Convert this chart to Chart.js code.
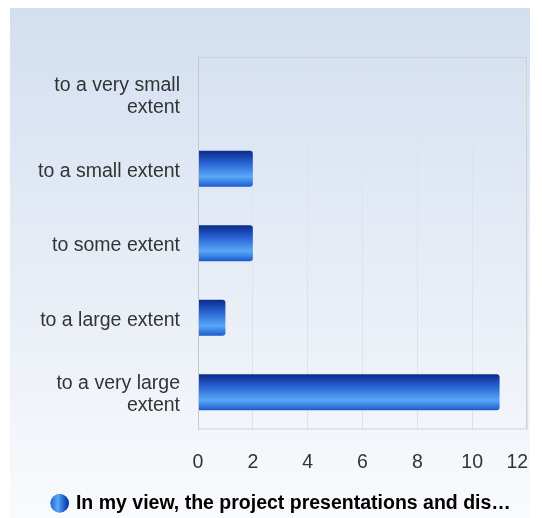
<!DOCTYPE html>
<html lang="en">
<head>
<meta charset="UTF-8">
<title>Extent chart</title>
<script src="https://cdn.jsdelivr.net/npm/chart.js"></script>
<style>
  html, body { margin: 0; padding: 0; background: #ffffff; }
  #wrap { position: relative; width: 542px; height: 518px; }
</style>
</head>
<body>
<div id="wrap"><canvas id="chart"></canvas></div>
<script>
// categories and values
const categories = [
    ['to a very small', 'extent'],
    'to a small extent',
    'to some extent',
    'to a large extent',
    ['to a very large', 'extent']
];
const answers = [0, 2, 2, 1, 11];
const xTicks = [0, 2, 4, 6, 8, 10, 12];
const seriesName = 'In my view, the project presentations and dis\u2026';

const FONT = "'Liberation Sans', Arial, sans-serif";
const FSIZE = 19.5;
const BAR_PCT = 0.48;
const MARK = 13;

// vertical gradient for each bar, spanning only that bar's height
function barFill(ctx) {
    const chart = ctx.chart;
    const y = chart.scales.y;
    if (!chart.chartArea || !y || ctx.dataIndex === undefined) return '#2a6fd8';
    const c = y.getPixelForValue(ctx.dataIndex);
    const h = (chart.chartArea.bottom - chart.chartArea.top) / categories.length * BAR_PCT;
    const g = chart.ctx.createLinearGradient(0, c - h / 2, 0, c + h / 2);
    g.addColorStop(0, '#0a2c8c');
    g.addColorStop(0.35, '#2a63d4');
    g.addColorStop(0.72, '#5aa8f8');
    g.addColorStop(1, '#1c5ccc');
    return g;
}

// panel background + plot frame + shaded legend marker
const panel = {
    id: 'panel',
    beforeDraw(chart) {
        const c = chart.ctx;
        const g = c.createLinearGradient(0, 8, 0, 518);
        g.addColorStop(0, '#d3dff0');
        g.addColorStop(1, '#f9fafc');
        c.save();
        c.fillStyle = g;
        c.fillRect(10, 8, 520, 510);
        c.restore();
    },
    afterDraw(chart) {
        const a = chart.chartArea;
        const c = chart.ctx;
        c.save();
        c.strokeStyle = '#cfd3d8';
        c.lineWidth = 1;
        c.strokeRect(a.left + 0.5, a.top + 0.5, a.right - a.left - 1, a.bottom - a.top - 1);
        c.beginPath();
        c.strokeStyle = '#c4c8cd';
        c.moveTo(a.left + 0.5, a.top);
        c.lineTo(a.left + 0.5, a.bottom);
        c.stroke();
        // legend marker with a sideways shine
        const hb = chart.legend && chart.legend.legendHitBoxes[0];
        if (hb) {
            const cx = hb.left + MARK / 2;
            const cy = hb.top + FSIZE / 2;
            const r = MARK * Math.SQRT2 / 2;
            const g = c.createLinearGradient(cx - r, 0, cx + r, 0);
            g.addColorStop(0, '#2a63d4');
            g.addColorStop(0.4, '#5aa8f8');
            g.addColorStop(0.75, '#1c5ccc');
            g.addColorStop(1, '#0a2c8c');
            c.beginPath();
            c.arc(cx, cy, r, 0, Math.PI * 2);
            c.fillStyle = g;
            c.fill();
        }
        c.restore();
    }
};

new Chart(document.getElementById('chart'), {
    type: 'bar',
    data: {
        labels: categories,
        datasets: [{
            label: seriesName,
            data: answers,
            backgroundColor: barFill,
            borderRadius: 3,
            borderSkipped: 'start',
            barPercentage: BAR_PCT,
            categoryPercentage: 1
        }]
    },
    options: {
        indexAxis: 'y',
        responsive: true,
        maintainAspectRatio: false,
        animation: false,
        layout: { padding: { top: 57, right: 15, left: 37, bottom: -5 } },
        scales: {
            x: {
                min: 0,
                max: 12,
                afterBuildTicks(scale) {
                    scale.ticks = xTicks.map(v => ({ value: v }));
                },
                afterFit(scale) {
                    scale.height = 63;
                    scale.paddingLeft = 0;
                    scale.paddingRight = 0;
                },
                grid: { color: '#dfe3e9', drawTicks: false },
                border: { display: false },
                ticks: {
                    padding: 21,
                    color: '#333333',
                    font: { family: FONT, size: FSIZE },
                    // last label sits pulled in, as in the original
                    callback: (v, i, t) => i === t.length - 1 ? v + '\u2002\u2002' : v
                }
            },
            y: {
                afterFit(scale) { scale.width = 161; },
                grid: { display: false, drawTicks: false },
                border: { display: false },
                ticks: {
                    padding: 18,
                    labelOffset: 2.5,
                    color: '#333333',
                    font: { family: FONT, size: FSIZE, lineHeight: 1.13 }
                }
            }
        },
        plugins: {
            legend: {
                position: 'bottom',
                labels: {
                    padding: 1,
                    usePointStyle: true,
                    pointStyle: 'circle',
                    boxWidth: MARK,
                    boxHeight: MARK,
                    color: '#333333',
                    font: { family: FONT, size: FSIZE, weight: 'bold', lineHeight: 1.0 },
                    generateLabels(chart) {
                        return chart.data.datasets.map((ds, i) => ({
                            text: ds.label,
                            fillStyle: '#2f6fe0',
                            strokeStyle: 'rgba(0,0,0,0)',
                            lineWidth: 0,
                            pointStyle: 'circle',
                            datasetIndex: i
                        }));
                    }
                }
            },
            tooltip: { enabled: false }
        }
    },
    plugins: [panel]
});
</script>
</body>
</html>
